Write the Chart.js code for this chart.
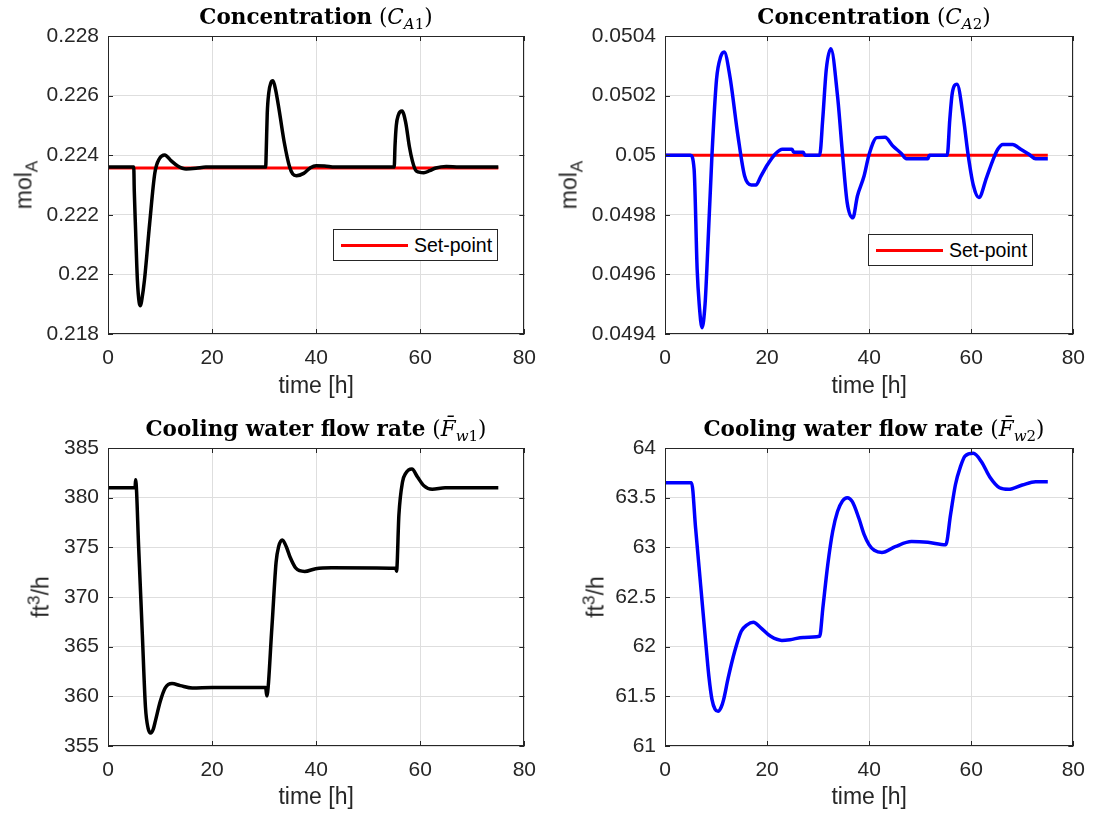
<!DOCTYPE html>
<html>
<head>
<meta charset="utf-8">
<script src="https://cdn.jsdelivr.net/npm/chart.js@4.4.1/dist/chart.umd.min.js"></script>
<style>
  body { margin: 0; background: #fff; }
  #fig { position: relative; width: 1097px; height: 815px; overflow: hidden; background: #fff;
         font-family: "Liberation Sans", Arial, sans-serif; color: #262626; }
  #fig canvas { position: absolute; }
  .title { position: absolute; font-family: "DejaVu Serif", serif; font-size: 21.5px; color: #000;
           white-space: nowrap; transform: translate(-50%, -50%); line-height: 1; }
  .title b { font-weight: bold; }
  .title sub { font-size: 0.7em; vertical-align: -0.3em; line-height: 0; }
  .ylab { position: absolute; font-size: 23px; white-space: nowrap; line-height: 23px;
          transform: translate(-50%, -50%) rotate(-90deg); }
  .ylab sub { font-size: 0.75em; vertical-align: -0.35em; line-height: 0; }
  .ylab sup { font-size: 0.75em; vertical-align: 0.55em; line-height: 0; }
  .legend { position: absolute; box-sizing: border-box; border: 1px solid #262626; background: #fff;
            width: 165px; height: 32px; font-size: 19.5px; }
  .legend .sw { position: absolute; left: 7px; top: 14px; width: 67px; height: 3px; background: #ff0000; }
  .legend .tx { position: absolute; left: 80px; top: 4px; line-height: 22px; color: #000; }
</style>
</head>
<body>
<div id="fig">
  <canvas id="cA1" width="548" height="400" style="left:0;top:0"></canvas>
  <canvas id="cA2" width="549" height="400" style="left:548px;top:0"></canvas>
  <canvas id="cFw1" width="548" height="415" style="left:0;top:400px"></canvas>
  <canvas id="cFw2" width="549" height="415" style="left:548px;top:400px"></canvas>

  <div class="title" style="left:316px;top:17px"><b>Concentration</b> (<i>C</i><sub><i>A</i>1</sub>)</div>
  <div class="title" style="left:874px;top:17px"><b>Concentration</b> (<i>C</i><sub><i>A</i>2</sub>)</div>
  <div class="title" style="left:316px;top:429px"><b>Cooling water flow rate</b> (<i>F&#772;</i><sub><i>w</i>1</sub>)</div>
  <div class="title" style="left:874px;top:429px"><b>Cooling water flow rate</b> (<i>F&#772;</i><sub><i>w</i>2</sub>)</div>

  <div class="ylab" style="left:24px;top:185px">mol<sub>A</sub></div>
  <div class="ylab" style="left:569px;top:185px">mol<sub>A</sub></div>
  <div class="ylab" style="left:41px;top:597px">ft<sup>3</sup>/h</div>
  <div class="ylab" style="left:596px;top:597px">ft<sup>3</sup>/h</div>

  <div class="legend" style="left:333px;top:229px"><span class="sw"></span><span class="tx">Set-point</span></div>
  <div class="legend" style="left:868px;top:234px"><span class="sw"></span><span class="tx">Set-point</span></div>
</div>

<script>
// ---- data (time in hours) ----
const timeCA1 = [0, 4.95, 5.05, 5.3, 5.65, 6.0, 6.25, 6.5, 7.0, 8.0, 9.0, 9.9, 10.9, 12.1, 13.4, 15.0, 16.9, 18.8,
  30.3, 30.4, 30.6, 30.9, 31.3, 31.7, 32.2, 32.9, 33.9, 34.9, 35.5, 36.2, 37.6, 38.9, 40.0, 41.6, 43.6,
  55.0, 55.15, 55.4, 55.8, 56.5, 57.2, 57.9, 58.5, 59.1, 59.8, 60.7, 61.8, 63.0, 65.0, 67.5, 75];
const valCA1 = [0.2236, 0.2236, 0.2228, 0.2215, 0.2198, 0.21905, 0.21895, 0.21915, 0.2198, 0.2217, 0.2234, 0.22389,
  0.22401, 0.22382, 0.22364, 0.22354, 0.22356, 0.2236,
  0.2236, 0.2241, 0.2254, 0.2261, 0.22643, 0.2265, 0.2262, 0.2255, 0.2244, 0.2236, 0.22337, 0.22331, 0.22339,
  0.22358, 0.22365, 0.22364, 0.2236,
  0.2236, 0.2243, 0.2250, 0.22535, 0.22548, 0.2251, 0.2243, 0.2238, 0.2235, 0.22343, 0.22341, 0.22348, 0.22357,
  0.22362, 0.2236, 0.2236];

const timeCA2 = [0, 5.0, 5.7, 6.3, 6.7, 7.26, 7.85, 8.2, 9.2, 10.1, 10.9, 11.6, 12.7, 14.3, 15.6, 16.9, 17.8, 18.8,
  20.1, 21.7, 23.0, 24.9, 25.2, 27.1, 27.4, 30.3, 30.9, 31.6, 32.5, 33.8, 34.8, 35.7, 36.8, 37.7, 39.0, 40.0,
  41.5, 43.1, 44.7, 46.3, 47.3, 51.5, 51.8, 55.3, 55.8, 56.3, 57.2, 58.5, 59.4, 60.4, 61.5, 63.0, 64.3, 65.2,
  66.2, 68.1, 69.7, 71.3, 72.6, 75];
const valCA2 = [0.05, 0.05, 0.049953, 0.049617, 0.0495, 0.049421, 0.0495, 0.049617, 0.05, 0.050255, 0.05033, 0.050346,
  0.050266, 0.050064, 0.04993, 0.0499, 0.0499, 0.04993, 0.049969, 0.050006, 0.05002, 0.05002, 0.05001, 0.05001,
  0.05, 0.05, 0.05012, 0.050288, 0.050357, 0.050199, 0.05, 0.04984, 0.04979, 0.049863, 0.04993, 0.050003,
  0.050059, 0.05006, 0.05003, 0.050006, 0.049988, 0.049988, 0.05, 0.05, 0.05012, 0.05021, 0.050238, 0.05012,
  0.05, 0.0499, 0.049858, 0.049925, 0.049986, 0.05002, 0.050036, 0.050036, 0.05002, 0.050003, 0.049988, 0.049988];

const timeFw1 = [0, 5.2, 5.3, 5.9, 6.6, 7.2, 7.7, 8.2, 8.7, 9.1, 10.05, 11.0, 12.3, 13.9, 16.2, 20.0, 30.3, 30.5,
  31.5, 32.3, 32.8, 33.5, 34.3, 35.0, 36.1, 37.8, 39.9, 43.0, 55.3, 55.45, 55.9, 56.6, 57.2, 58.4, 59.45, 60.7,
  62.3, 64.8, 75];
const valFw1 = [381.0, 381.0, 381.8, 374.9, 366.2, 358.9, 356.8, 356.3, 356.7, 357.5, 359.5, 360.85, 361.28, 361.08,
  360.85, 360.9, 360.9, 360.05, 367.0, 373.5, 375.1, 375.75, 375.0, 374.0, 372.9, 372.57, 372.85, 372.95, 372.9,
  372.6, 378.26, 381.6, 382.45, 382.88, 382.1, 381.2, 380.84, 381.0, 381.0];

const timeFw2 = [0, 5.2, 6.0, 7.0, 8.0, 8.6, 9.2, 9.8, 10.4, 11.0, 11.5, 12.38, 13.66, 14.94, 16.09, 17.3, 18.78,
  20.7, 22.9, 24.5, 27.1, 30.3, 30.93, 31.9, 32.85, 33.8, 34.77, 35.7, 36.7, 38.0, 39.0, 40.0, 41.0, 42.5, 45.1,
  48.3, 51.5, 55.0, 55.95, 56.9, 57.87, 58.8, 60.4, 62.0, 63.6, 65.55, 67.3, 70.0, 72.6, 75];
const valFw2 = [63.651, 63.651, 63.19, 62.61, 62.03, 61.70, 61.47, 61.37, 61.35, 61.39, 61.47, 61.685, 61.953, 62.155,
  62.22, 62.245, 62.19, 62.104, 62.063, 62.07, 62.093, 62.104, 62.39, 62.83, 63.159, 63.36, 63.467, 63.50, 63.46,
  63.29, 63.13, 63.025, 62.97, 62.948, 63.007, 63.058, 63.05, 63.025, 63.33, 63.63, 63.81, 63.92, 63.946, 63.862,
  63.711, 63.6, 63.584, 63.627, 63.661, 63.661];

const setTime = [0, 75];
const setCA1 = [0.22357, 0.22357];
const setCA2 = [0.05, 0.05];

const xTicks = [0, 20, 40, 60, 80];
const yTicksCA1 = [0.218, 0.22, 0.222, 0.224, 0.226, 0.228];
const yTicksCA2 = [0.0494, 0.0496, 0.0498, 0.05, 0.0502, 0.0504];
const yTicksFw1 = [355, 360, 365, 370, 375, 380, 385];
const yTicksFw2 = [61, 61.5, 62, 62.5, 63, 63.5, 64];

// ---- drawing ----
Chart.defaults.font.family = '"Liberation Sans", Arial, sans-serif';
Chart.defaults.color = '#262626';

const GRID = '#dedede';
const AXIS = '#262626';

const toXY = (ts, vs) => ts.map((t, i) => ({ x: t, y: vs[i] }));
const fixedTicks = list => scale => { scale.ticks = list.map(v => ({ value: v })); };

// MATLAB-like box with inward tick marks on all four sides
const axesBox = {
    id: 'axesBox',
    afterDraw(chart) {
        const { ctx, chartArea: a, scales } = chart;
        const x = scales.x, y = scales.y;
        ctx.save();
        ctx.strokeStyle = AXIS;
        ctx.lineWidth = 1;
        ctx.beginPath();
        x.ticks.forEach(t => {
            const px = Math.round(x.getPixelForValue(t.value)) + 0.5;
            ctx.moveTo(px, a.bottom); ctx.lineTo(px, a.bottom - 5);
            ctx.moveTo(px, a.top); ctx.lineTo(px, a.top + 5);
        });
        y.ticks.forEach(t => {
            const py = Math.round(y.getPixelForValue(t.value)) + 0.5;
            ctx.moveTo(a.left, py); ctx.lineTo(a.left + 5, py);
            ctx.moveTo(a.right, py); ctx.lineTo(a.right - 5, py);
        });
        ctx.stroke();
        ctx.strokeRect(Math.round(a.left) + 0.5, Math.round(a.top) + 0.5,
                       Math.round(a.width) - 1, Math.round(a.height) - 1);
        ctx.restore();
    }
};

function makePanel(id, p) {
    const datasets = [{
        data: toXY(p.time, p.values),
        borderColor: p.color,
        borderWidth: 3.5,
        cubicInterpolationMode: 'monotone',
        pointRadius: 0,
        fill: false
    }];
    if (p.setValues) {
        datasets.push({
            data: toXY(setTime, p.setValues),
            borderColor: '#ff0000',
            borderWidth: 3,
            pointRadius: 0,
            fill: false
        });
    }
    return new Chart(document.getElementById(id), {
        type: 'line',
        data: { datasets },
        options: {
            responsive: false,
            animation: false,
            layout: { padding: { top: p.top, right: p.right, left: 0, bottom: 0 } },
            plugins: { legend: { display: false }, tooltip: { enabled: false } },
            scales: {
                x: {
                    type: 'linear', min: 0, max: 80,
                    afterBuildTicks: fixedTicks(xTicks),
                    afterFit: s => { s.height = p.xH; },
                    ticks: { font: { size: 21 }, color: AXIS, padding: 12, maxRotation: 0 },
                    grid: { color: GRID, drawTicks: false },
                    border: { display: false },
                    title: { display: true, text: 'time [h]', font: { size: 23 }, color: AXIS,
                             padding: { top: 0, bottom: p.titlePad } }
                },
                y: {
                    type: 'linear', min: p.yTicks[0], max: p.yTicks[p.yTicks.length - 1],
                    afterBuildTicks: fixedTicks(p.yTicks),
                    afterFit: s => { s.width = p.yW; },
                    ticks: { font: { size: 21 }, color: AXIS, padding: 9,
                             callback: v => String(Number(v.toFixed(6))) },
                    grid: { color: GRID, drawTicks: false },
                    border: { display: false }
                }
            }
        },
        plugins: [axesBox]
    });
}

makePanel('cA1', { time: timeCA1, values: valCA1, setValues: setCA1, color: '#000000',
    yTicks: yTicksCA1, top: 36, right: 23, yW: 108, xH: 66, titlePad: 0 });
makePanel('cA2', { time: timeCA2, values: valCA2, setValues: setCA2, color: '#0000ff',
    yTicks: yTicksCA2, top: 36, right: 14, yW: 117, xH: 66, titlePad: 0 });
makePanel('cFw1', { time: timeFw1, values: valFw1, color: '#000000',
    yTicks: yTicksFw1, top: 48, right: 23, yW: 108, xH: 69, titlePad: 4 });
makePanel('cFw2', { time: timeFw2, values: valFw2, color: '#0000ff',
    yTicks: yTicksFw2, top: 48, right: 14, yW: 117, xH: 69, titlePad: 4 });
</script>
</body>
</html>
